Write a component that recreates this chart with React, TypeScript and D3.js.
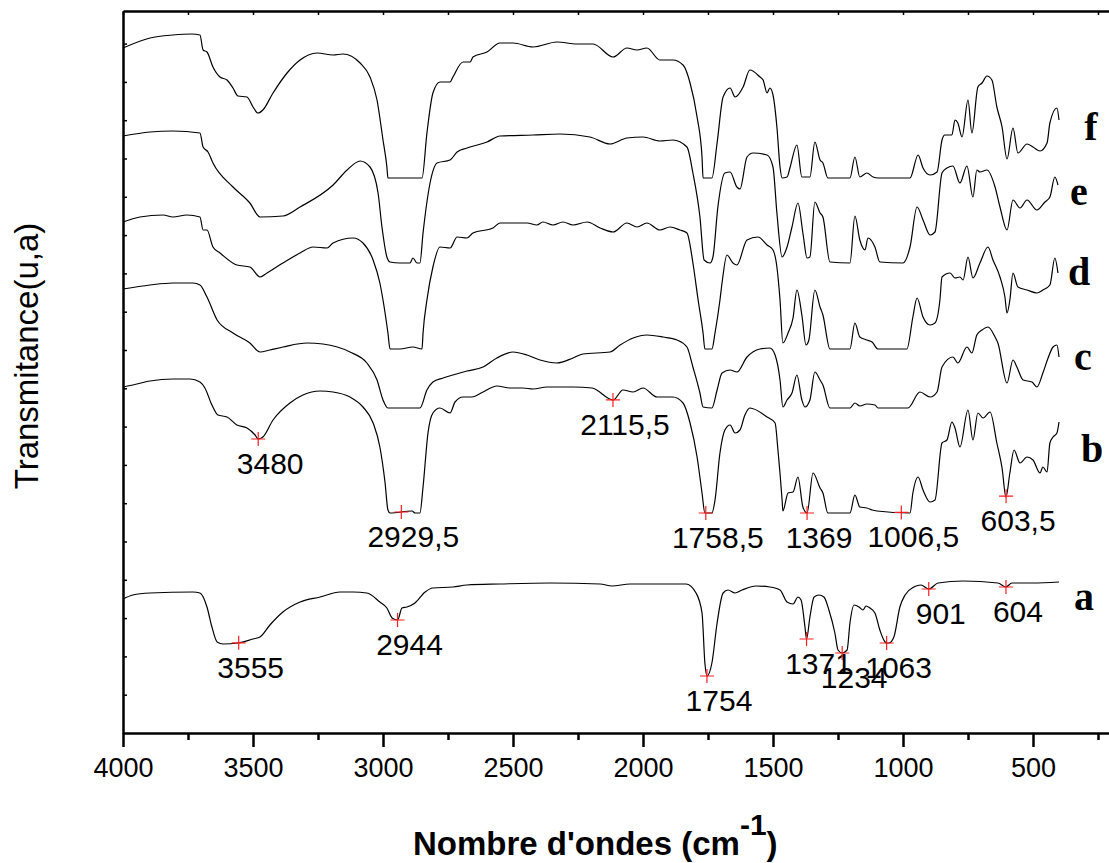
import React, { useRef, useEffect } from 'react';
import * as d3 from 'd3';

// FTIR spectra, [wavenumber (cm-1), transmittance (a.u., stacked)]
const spectrumF = [
  [4000, 685], [3896, 695], [3808, 698], [3735, 699], [3704, 698], [3692, 683], [3677, 681], [3654, 666],
  [3627, 656], [3600, 653], [3577, 645], [3558, 637], [3523, 636], [3500, 626], [3481, 620], [3462, 623],
  [3423, 640], [3369, 660], [3319, 673], [3254, 680], [3192, 678], [3154, 679], [3088, 670], [3050, 656],
  [3023, 633], [3000, 593], [2985, 566], [2981, 555], [2850, 555], [2831, 600], [2808, 640], [2781, 651],
  [2742, 651], [2731, 656], [2692, 671], [2665, 671], [2654, 676], [2600, 681], [2550, 690], [2500, 690],
  [2423, 686], [2331, 691], [2254, 689], [2192, 689], [2115, 676], [2062, 685], [2023, 683], [1985, 685],
  [1935, 673], [1885, 673], [1846, 668], [1819, 650], [1792, 616], [1773, 576], [1769, 555], [1735, 555],
  [1715, 590], [1692, 636], [1665, 645], [1646, 636], [1615, 646], [1589, 663], [1550, 656], [1538, 653],
  [1523, 640], [1512, 645], [1500, 638], [1485, 606], [1473, 566], [1465, 555], [1446, 556], [1435, 565],
  [1408, 588], [1389, 556], [1358, 556], [1339, 591], [1319, 573], [1308, 570], [1289, 555], [1204, 555],
  [1185, 576], [1166, 556], [1139, 560], [1115, 556], [1096, 555], [973, 555], [942, 578], [923, 565],
  [896, 558], [869, 561], [850, 593], [839, 598], [812, 598], [800, 613], [789, 610], [773, 596],
  [750, 633], [735, 600], [712, 646], [696, 650], [677, 657], [658, 653], [639, 626], [619, 606],
  [600, 574], [577, 605], [558, 580], [523, 589], [500, 586], [473, 582], [446, 590], [435, 610],
  [408, 625], [400, 613],
];

const spectrumE = [
  [4000, 597], [3896, 601], [3808, 602], [3704, 600], [3692, 586], [3673, 581], [3654, 570], [3577, 546],
  [3512, 530], [3473, 516], [3385, 517], [3319, 526], [3192, 548], [3138, 563], [3088, 572], [3050, 566],
  [3019, 540], [3004, 506], [2985, 476], [2973, 471], [2935, 470], [2896, 470], [2885, 475], [2869, 470],
  [2858, 470], [2846, 500], [2819, 550], [2792, 570], [2742, 573], [2715, 581], [2677, 585], [2600, 591],
  [2550, 597], [2423, 598], [2319, 599], [2204, 596], [2127, 589], [2062, 595], [2000, 596], [1935, 592],
  [1885, 593], [1831, 586], [1808, 560], [1781, 516], [1765, 473], [1742, 470], [1731, 476], [1712, 526],
  [1685, 560], [1665, 561], [1639, 546], [1627, 544], [1600, 576], [1577, 580], [1523, 578], [1500, 566],
  [1485, 520], [1465, 476], [1446, 486], [1427, 506], [1404, 530], [1385, 500], [1369, 475], [1358, 476],
  [1339, 531], [1319, 520], [1308, 516], [1281, 471], [1204, 470], [1185, 517], [1166, 493], [1146, 483],
  [1135, 495], [1108, 486], [1089, 471], [1000, 470], [973, 486], [946, 526], [923, 513], [896, 498],
  [877, 501], [850, 560], [831, 565], [808, 567], [781, 550], [754, 567], [731, 536], [716, 563],
  [704, 561], [677, 563], [646, 546], [627, 526], [600, 503], [577, 533], [550, 525], [523, 533],
  [485, 523], [454, 531], [435, 536], [416, 556], [404, 548],
];

const spectrumD = [
  [4000, 511], [3935, 516], [3846, 518], [3808, 516], [3754, 518], [3704, 516], [3692, 503], [3677, 503],
  [3654, 486], [3627, 480], [3562, 468], [3512, 466], [3473, 456], [3446, 460], [3385, 470], [3319, 480],
  [3269, 486], [3215, 485], [3192, 490], [3115, 495], [3077, 490], [3038, 473], [3012, 450], [3000, 433],
  [2981, 400], [2973, 384], [2935, 384], [2885, 386], [2850, 384], [2846, 400], [2831, 433], [2808, 466],
  [2781, 486], [2742, 485], [2715, 496], [2677, 495], [2654, 500], [2577, 505], [2550, 510], [2446, 510],
  [2408, 508], [2385, 511], [2346, 508], [2308, 511], [2269, 508], [2215, 511], [2165, 505], [2115, 501],
  [2062, 510], [2023, 506], [1985, 510], [1935, 503], [1896, 506], [1858, 503], [1831, 500], [1808, 470],
  [1788, 433], [1769, 400], [1762, 384], [1735, 384], [1723, 400], [1704, 433], [1696, 450], [1677, 478],
  [1654, 470], [1639, 468], [1600, 493], [1558, 496], [1523, 488], [1500, 483], [1485, 466], [1473, 433],
  [1462, 390], [1442, 400], [1423, 415], [1408, 443], [1389, 418], [1373, 388], [1362, 393], [1339, 443],
  [1319, 426], [1308, 418], [1281, 384], [1204, 384], [1185, 410], [1166, 396], [1139, 393], [1119, 391],
  [1096, 384], [985, 384], [962, 416], [946, 435], [923, 416], [896, 408], [877, 410], [858, 433],
  [850, 456], [819, 460], [800, 455], [781, 456], [769, 453], [750, 476], [731, 455], [704, 470],
  [673, 486], [654, 473], [627, 456], [608, 436], [600, 420], [589, 433], [577, 460], [558, 446],
  [523, 443], [485, 440], [462, 443], [435, 448], [416, 475], [404, 460],
];

const spectrumC = [
  [4000, 444], [3896, 448], [3808, 450], [3731, 450], [3704, 448], [3677, 436], [3638, 413], [3577, 400],
  [3512, 390], [3473, 381], [3435, 383], [3385, 386], [3292, 390], [3231, 389], [3127, 381], [3062, 370],
  [3023, 353], [3000, 333], [2981, 325], [2858, 325], [2831, 343], [2808, 351], [2769, 355], [2731, 358],
  [2677, 362], [2615, 366], [2562, 375], [2500, 381], [2446, 378], [2396, 373], [2331, 370], [2269, 375],
  [2231, 379], [2127, 381], [2088, 388], [2038, 395], [1985, 398], [1923, 396], [1869, 393], [1831, 386],
  [1808, 366], [1781, 340], [1769, 326], [1735, 325], [1715, 343], [1696, 360], [1665, 363], [1639, 361],
  [1600, 376], [1550, 384], [1512, 385], [1492, 378], [1473, 353], [1462, 326], [1446, 333], [1427, 340],
  [1408, 358], [1389, 333], [1377, 326], [1358, 333], [1339, 361], [1319, 353], [1308, 348], [1281, 325],
  [1204, 325], [1185, 330], [1166, 327], [1139, 329], [1108, 328], [1096, 325], [981, 325], [935, 341],
  [896, 336], [869, 341], [850, 366], [808, 376], [789, 370], [754, 386], [735, 380], [716, 398],
  [696, 403], [673, 406], [646, 396], [635, 390], [600, 350], [577, 373], [562, 366], [538, 353],
  [504, 351], [485, 346], [462, 360], [442, 375], [423, 386], [408, 388], [400, 376],
];

const spectrumB = [
  [4000, 346], [3962, 348], [3896, 352], [3808, 354], [3742, 354], [3704, 351], [3685, 345], [3658, 328],
  [3635, 318], [3600, 316], [3562, 308], [3523, 305], [3492, 298], [3480, 294], [3462, 296], [3423, 313],
  [3358, 330], [3308, 338], [3242, 342], [3192, 341], [3127, 336], [3077, 326], [3038, 310], [3012, 286],
  [2992, 250], [2981, 223], [2973, 220], [2888, 222], [2877, 220], [2858, 220], [2846, 246], [2827, 300],
  [2808, 320], [2781, 325], [2742, 320], [2723, 331], [2692, 336], [2658, 336], [2615, 341], [2562, 347],
  [2512, 345], [2462, 345], [2423, 344], [2369, 346], [2269, 346], [2196, 345], [2115, 333], [2077, 343],
  [2038, 341], [2000, 345], [1946, 336], [1885, 336], [1846, 330], [1819, 310], [1792, 276], [1773, 240],
  [1762, 220], [1735, 220], [1723, 233], [1704, 280], [1685, 303], [1665, 308], [1646, 300], [1627, 303],
  [1608, 318], [1589, 325], [1523, 316], [1492, 310], [1481, 283], [1465, 233], [1462, 222], [1442, 240],
  [1423, 241], [1404, 256], [1385, 226], [1369, 220], [1346, 260], [1319, 245], [1308, 240], [1289, 220],
  [1204, 220], [1185, 238], [1166, 226], [1139, 225], [1119, 223], [1100, 222], [973, 220], [962, 240],
  [942, 256], [923, 243], [896, 231], [877, 233], [850, 290], [831, 293], [812, 311], [800, 305],
  [781, 286], [750, 323], [731, 293], [712, 320], [692, 315], [665, 321], [639, 290], [619, 265],
  [604, 236], [589, 260], [573, 283], [550, 270], [523, 276], [500, 273], [473, 260], [462, 266],
  [446, 261], [435, 290], [423, 296], [408, 300], [400, 311],
];

const spectrumA = [
  [4000, 134], [3962, 138], [3896, 140], [3731, 141], [3704, 140], [3677, 126], [3658, 106], [3638, 91],
  [3615, 89], [3558, 90], [3500, 94], [3473, 96], [3435, 108], [3385, 121], [3319, 131], [3242, 136],
  [3165, 141], [3115, 141], [3062, 140], [3012, 131], [2985, 125], [2965, 115], [2944, 113], [2927, 125],
  [2908, 126], [2877, 130], [2838, 141], [2808, 145], [2731, 146], [2677, 148], [2550, 149], [2358, 150],
  [2165, 149], [2119, 147], [2050, 149], [1835, 149], [1796, 140], [1773, 120], [1762, 70], [1754, 57],
  [1735, 70], [1715, 110], [1692, 140], [1673, 143], [1646, 140], [1619, 143], [1565, 147], [1512, 146],
  [1473, 143], [1446, 131], [1423, 129], [1404, 136], [1392, 133], [1377, 106], [1371, 94], [1358, 116],
  [1342, 136], [1323, 138], [1304, 136], [1285, 123], [1262, 100], [1250, 83], [1234, 80], [1215, 83],
  [1204, 110], [1188, 128], [1169, 126], [1154, 123], [1142, 127], [1127, 125], [1108, 120], [1089, 103],
  [1069, 91], [1063, 90], [1054, 90], [1035, 96], [1012, 126], [992, 138], [958, 146], [931, 148],
  [901, 144], [865, 150], [769, 152], [635, 150], [604, 146], [581, 150], [500, 150], [400, 151],
];

const seriesKeys = ['f', 'e', 'd', 'c', 'b', 'a'];
const seriesData = [spectrumF, spectrumE, spectrumD, spectrumC, spectrumB, spectrumA];

// marked bands
const peakSeries = ['b', 'b', 'b', 'b', 'b', 'b', 'b', 'a', 'a', 'a', 'a', 'a', 'a', 'a', 'a'];
const peakWavenumbers = [3480, 2929.5, 2115.5, 1758.5, 1369, 1006.5, 603.5, 3555, 2944, 1754, 1371, 1234, 1063, 901, 604];
const peakLabels = ['3480', '2929,5', '2115,5', '1758,5', '1369', '1006,5', '603,5', '3555', '2944', '1754', '1371', '1234', '1063', '901', '604'];

const xTicks = [4000, 3500, 3000, 2500, 2000, 1500, 1000, 500];
const xMinorTicks = [3750, 3250, 2750, 2250, 1750, 1250, 750, 250];

// spot for each sample letter, right of the traces
const letterPos = { f: [1091, 140], e: [1079, 205], d: [1079, 285], c: [1083, 370], b: [1092, 462], a: [1084, 610] };

const sans = '"Liberation Sans", Arial, sans-serif';

const valueAt = (data, wn) => {
  for (let i = 0; i < data.length - 1; i++) {
    const [w0, v0] = data[i];
    const [w1, v1] = data[i + 1];
    if (wn <= w0 && wn >= w1) {
      const t = w0 === w1 ? 0 : (w0 - wn) / (w0 - w1);
      return v0 + t * (v1 - v0);
    }
  }
  return data[data.length - 1][1];
};

const App = () => {
  const chartRef = useRef(null);

  useEffect(() => {
    const width = 1109;
    const height = 863;
    const margin = { top: 11, left: 123, bottom: 733 };

    d3.select(chartRef.current).selectAll('*').remove();

    const svg = d3
      .select(chartRef.current)
      .append('svg')
      .attr('width', width)
      .attr('height', height)
      .style('display', 'block');

    svg.append('rect').attr('width', width).attr('height', height).attr('fill', '#fff');

    const x = d3.scaleLinear().domain([4000, 200]).range([margin.left, 1111]);
    const y = d3.scaleLinear().domain([0, 722]).range([margin.bottom, margin.top]);

    // spectra
    const line = d3
      .line()
      .curve(d3.curveMonotoneX)
      .x((d) => x(d[0]))
      .y((d) => y(d[1]));

    seriesData.forEach((data) => {
      svg
        .append('path')
        .datum(data)
        .attr('fill', 'none')
        .attr('stroke', '#000')
        .attr('stroke-width', 1.2)
        .attr('stroke-linejoin', 'round')
        .attr('d', line);
    });

    // peak markers + labels
    peakWavenumbers.forEach((wn, i) => {
      const data = seriesData[seriesKeys.indexOf(peakSeries[i])];
      const px = x(wn);
      const py = y(valueAt(data, wn));
      svg
        .append('path')
        .attr('d', `M${px - 7},${py}H${px + 7}M${px},${py - 7}V${py + 7}`)
        .attr('stroke', '#ff2020')
        .attr('stroke-width', 1.2)
        .attr('fill', 'none');
      svg
        .append('text')
        .attr('x', px + 12)
        .attr('y', py + 35)
        .attr('text-anchor', 'middle')
        .attr('font-family', sans)
        .attr('font-size', 30)
        .attr('fill', '#000')
        .text(peakLabels[i]);
    });

    // sample letters
    seriesKeys.forEach((k) => {
      svg
        .append('text')
        .attr('x', letterPos[k][0])
        .attr('y', letterPos[k][1])
        .attr('text-anchor', 'middle')
        .attr('font-family', '"Liberation Serif", "Times New Roman", serif')
        .attr('font-weight', 'bold')
        .attr('font-size', 40)
        .text(k);
    });

    // bottom axis
    svg
      .append('g')
      .attr('transform', `translate(0, ${margin.bottom})`)
      .call(d3.axisBottom(x).tickValues(xTicks).tickSize(14).tickSizeOuter(0).tickPadding(11).tickFormat(d3.format('d')))
      .call((g) => g.select('.domain').attr('stroke-width', 2.5))
      .call((g) => g.selectAll('.tick line').attr('stroke-width', 2.5))
      .call((g) =>
        g.selectAll('text').attr('font-family', sans).attr('font-size', 27).attr('fill', '#000')
      );

    svg
      .append('g')
      .attr('transform', `translate(0, ${margin.bottom})`)
      .call(d3.axisBottom(x).tickValues(xMinorTicks).tickSize(7).tickFormat(() => ''))
      .call((g) => g.select('.domain').remove())
      .selectAll('.tick line')
      .attr('stroke-width', 2.5);

    // top frame
    svg
      .append('g')
      .attr('transform', `translate(0, ${margin.top})`)
      .call(d3.axisTop(x).tickValues(xTicks.concat(xMinorTicks)).tickSize(-4).tickSizeOuter(0).tickFormat(() => ''))
      .call((g) => g.select('.domain').attr('stroke-width', 2.5))
      .selectAll('.tick line')
      .attr('stroke-width', 1.5);

    // left axis
    svg
      .append('g')
      .attr('transform', `translate(${margin.left}, 0)`)
      .call(d3.axisLeft(y).tickValues(d3.range(38.3, 722, 38.3)).tickSize(-4).tickSizeOuter(0).tickFormat(() => ''))
      .call((g) => g.select('.domain').attr('stroke-width', 2.5))
      .selectAll('.tick line')
      .attr('stroke-width', 1.5);

    // axis titles
    svg
      .append('text')
      .attr('transform', 'translate(38, 356) rotate(-90)')
      .attr('text-anchor', 'middle')
      .attr('font-family', sans)
      .attr('font-size', 33)
      .text('Transmitance(u,a)');

    const title = svg
      .append('text')
      .attr('x', 413)
      .attr('y', 855)
      .attr('font-family', sans)
      .attr('font-weight', 'bold')
      .attr('font-size', 33);
    title.append('tspan').text("Nombre d'ondes (cm");
    title.append('tspan').attr('dy', -20).attr('font-size', 30).text('-1');
    title.append('tspan').attr('dy', 20).text(')');
  }, []);

  return <div ref={chartRef} style={{ position: 'absolute', left: 0, top: 0 }}></div>;
};

export default App;
